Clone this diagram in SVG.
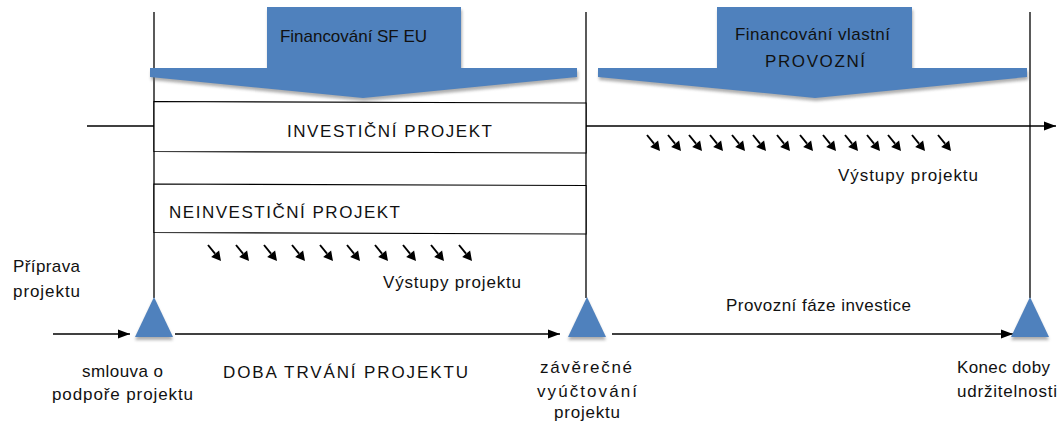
<svg xmlns="http://www.w3.org/2000/svg" width="1057" height="426" viewBox="0 0 1057 426">
<style>
.t{font-family:"Liberation Sans",Arial,sans-serif;font-size:17px;fill:#111}
.ln{stroke:#000;stroke-width:1.3;fill:none}
.blue{fill:#4F81BD}
.sh{fill:#6d6d6d;opacity:.55}
.box{fill:#fff;stroke:#000;stroke-width:1.2}
</style>
<defs>
<filter id="blur" x="-10%" y="-10%" width="120%" height="140%"><feGaussianBlur stdDeviation="1.4"/></filter>
<marker id="ah" markerUnits="userSpaceOnUse" markerWidth="13" markerHeight="10" refX="12" refY="5" orient="auto"><path d="M0,0.5 L12,5 L0,9.5 Z" fill="#000"/></marker>
<g id="dart"><path d="M0,0 L7,8.6" stroke="#000" stroke-width="1.9"/><path d="M13,16 L11.1,5.5 L3.2,11.9 Z" fill="#000"/></g>
</defs>
<rect width="1057" height="426" fill="#fff"/>

<g id="connectors">
<line class="ln" x1="87" y1="126" x2="1056" y2="126" marker-end="url(#ah)"/>
<line class="ln" x1="154" y1="12" x2="154" y2="298"/>
<line class="ln" x1="586" y1="12" x2="586" y2="298"/>
<line class="ln" x1="1030" y1="12" x2="1030" y2="298"/>
<line class="ln" x1="53" y1="334" x2="130" y2="334" marker-end="url(#ah)"/>
<line class="ln" x1="175" y1="334" x2="560" y2="334" marker-end="url(#ah)"/>
<line class="ln" x1="612" y1="334" x2="1013" y2="334" marker-end="url(#ah)"/>
</g>

<g id="funding-eu">
<path class="sh" filter="url(#blur)" transform="translate(1,3)" d="M267,7 H461 V68 H577 V77 L363,98 L150,77 V68 H267 Z"/>
<path class="blue" d="M267,7 H461 V68 H577 V77 L363,98 L150,77 V68 H267 Z"/>
<text class="t" x="280" y="42" textLength="147">Financování SF EU</text>
</g>

<g id="funding-own">
<path class="sh" filter="url(#blur)" transform="translate(1,3)" d="M717,7 H912 V68 H1027 V77 L815,98 L598,77 V68 H717 Z"/>
<path class="blue" d="M717,7 H912 V68 H1027 V77 L815,98 L598,77 V68 H717 Z"/>
<text class="t" x="735" y="40" textLength="155">Financování vlastní</text>
<text class="t" x="765" y="67" textLength="100">PROVOZNÍ</text>
</g>

<g id="investicni">
<path class="box" d="M154,101.5 L586,103 L586,153 L154,151.5 Z"/>
<text class="t" x="287" y="137" textLength="205">INVESTIČNÍ PROJEKT</text>
</g>

<g id="neinvesticni">
<path class="box" d="M154,184 L586,185.5 L586,234 L154,232.5 Z"/>
<text class="t" x="169" y="218" textLength="231">NEINVESTIČNÍ PROJEKT</text>
</g>

<g id="outputs-left">
<use href="#dart" x="208" y="245"/><use href="#dart" x="236" y="245"/><use href="#dart" x="264" y="245"/><use href="#dart" x="292" y="245"/><use href="#dart" x="320" y="245"/><use href="#dart" x="347" y="245"/><use href="#dart" x="375" y="245"/><use href="#dart" x="403" y="245"/><use href="#dart" x="431" y="245"/><use href="#dart" x="459" y="245"/>
<text class="t" x="383" y="288" textLength="138">Výstupy projektu</text>
</g>

<g id="outputs-right">
<use href="#dart" x="647" y="135"/><use href="#dart" x="668" y="135"/><use href="#dart" x="689" y="135"/><use href="#dart" x="710" y="135"/><use href="#dart" x="732" y="135"/><use href="#dart" x="753" y="135"/><use href="#dart" x="777" y="135"/><use href="#dart" x="800" y="135"/><use href="#dart" x="823" y="135"/><use href="#dart" x="845" y="135"/><use href="#dart" x="867" y="135"/><use href="#dart" x="888" y="135"/><use href="#dart" x="912" y="135"/><use href="#dart" x="938" y="135"/>
<text class="t" x="838" y="181" textLength="140">Výstupy projektu</text>
</g>

<g id="priprava">
<text class="t" x="13" y="272" textLength="67">Příprava</text>
<text class="t" x="13" y="297" textLength="67">projektu</text>
</g>

<g id="milestone-start">
<polygon class="sh" filter="url(#blur)" transform="translate(0,3)" points="135,337 173,337 154,297"/>
<polygon class="blue" points="135,337 173,337 154,297"/>
<text class="t" x="82" y="377" textLength="81">smlouva o</text>
<text class="t" x="52" y="400" textLength="141">podpoře projektu</text>
</g>

<g id="doba">
<text class="t" x="223" y="378" textLength="245">DOBA TRVÁNÍ PROJEKTU</text>
</g>

<g id="milestone-end">
<polygon class="sh" filter="url(#blur)" transform="translate(0,3)" points="568,337 606,337 587,297"/>
<polygon class="blue" points="568,337 606,337 587,297"/>
<text class="t" x="540" y="373" textLength="92">závěrečné</text>
<text class="t" x="537" y="397" textLength="100">vyúčtování</text>
<text class="t" x="554" y="418" textLength="66">projektu</text>
</g>

<g id="provoz">
<text class="t" x="726" y="311" textLength="185">Provozní fáze investice</text>
</g>

<g id="milestone-sustain">
<polygon class="sh" filter="url(#blur)" transform="translate(0,3)" points="1011,337 1049,337 1030,297"/>
<polygon class="blue" points="1011,337 1049,337 1030,297"/>
<text class="t" x="957" y="373" textLength="93">Konec doby</text>
<text class="t" x="957" y="397" textLength="100">udržitelnosti</text>
</g>
</svg>
